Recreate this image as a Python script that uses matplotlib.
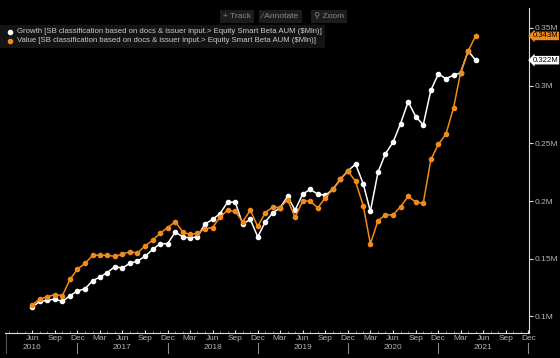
import matplotlib
matplotlib.use('Agg')

import matplotlib.pyplot as plt
import matplotlib.dates as mdates
import pandas as pd

plt.rcParams['font.family'] = ['Liberation Sans', 'DejaVu Sans']

# monthly AUM (millions) Jun 2016 .. May 2021
dates = pd.date_range('2016-06-01', periods=60, freq='MS')

growth = [0.108, 0.113, 0.114, 0.115, 0.113, 0.118, 0.122, 0.124, 0.131, 0.134,
          0.138, 0.143, 0.142, 0.146, 0.148, 0.152, 0.158, 0.163, 0.163, 0.173,
          0.169, 0.168, 0.169, 0.180, 0.184, 0.189, 0.199, 0.199, 0.180, 0.184,
          0.169, 0.182, 0.190, 0.194, 0.204, 0.192, 0.206, 0.210, 0.206, 0.205,
          0.210, 0.219, 0.226, 0.232, 0.215, 0.191, 0.225, 0.241, 0.251, 0.267,
          0.286, 0.273, 0.266, 0.296, 0.310, 0.306, 0.309, 0.311, 0.330, 0.322]

value = [0.110, 0.115, 0.117, 0.119, 0.118, 0.132, 0.141, 0.146, 0.153, 0.153,
         0.153, 0.152, 0.154, 0.156, 0.155, 0.161, 0.166, 0.172, 0.177, 0.182,
         0.173, 0.171, 0.172, 0.176, 0.177, 0.186, 0.192, 0.191, 0.182, 0.192,
         0.178, 0.190, 0.195, 0.194, 0.201, 0.186, 0.200, 0.200, 0.194, 0.203,
         0.210, 0.219, 0.226, 0.217, 0.196, 0.163, 0.183, 0.188, 0.188, 0.195,
         0.204, 0.199, 0.198, 0.236, 0.249, 0.258, 0.281, 0.311, 0.330, 0.343]

names = ['Growth [SB classification based on docs & issuer input.> Equity Smart Beta AUM ($Mln)]',
         'Value [SB classification based on docs & issuer input.> Equity Smart Beta AUM ($Mln)]']

yticks = [0.10, 0.15, 0.20, 0.25, 0.30, 0.35]
years = [2016, 2017, 2018, 2019, 2020, 2021]

WHITE = '#ffffff'
ORANGE = '#f28a1a'
GREY = '#b4b4b4'

fig = plt.figure(figsize=(5.6, 3.58), dpi=100, facecolor='black')
ax = fig.add_axes([0.009, 0.07, 0.936, 0.907])
ax.set_facecolor('black')

ax.plot(dates, growth, color=WHITE, lw=1.1, marker='o', ms=3, zorder=3)
ax.plot(dates, value, color=ORANGE, lw=1.1, marker='o', ms=3, zorder=3)

ax.set_xlim(pd.Timestamp('2016-02-12'), pd.Timestamp('2021-12-04'))
ax.set_ylim(0.0857, 0.367)

for s in ['top', 'left']:
    ax.spines[s].set_visible(False)
for s in ['right', 'bottom']:
    ax.spines[s].set_color('#dddddd')
    ax.spines[s].set_linewidth(0.8)

# y axis on the right
ax.yaxis.tick_right()
ax.set_yticks(yticks)
ax.set_yticklabels(['%gM' % t for t in yticks])
ax.tick_params(axis='y', colors='#dddddd', labelcolor=GREY, labelsize=6,
               length=3, width=0.8, pad=1)

# x axis: quarterly month labels from Jun 2016, monthly minor ticks
qticks = pd.date_range('2016-06-01', '2021-12-01', freq='3MS')
ax.set_xticks(qticks)
ax.set_xticklabels([d.strftime('%b') for d in qticks])
ax.xaxis.set_minor_locator(mdates.MonthLocator())
ax.tick_params(axis='x', which='major', colors='#dddddd', labelcolor=GREY,
               labelsize=6, length=2, width=0.8, pad=1.5, direction='in')
ax.tick_params(axis='x', which='minor', colors='#888888', length=1.5,
               width=0.6, direction='in')

# year labels and separators
xt = ax.get_xaxis_transform()
for y in years:
    ax.text(pd.Timestamp('%d-06-01' % y), -0.044, str(y), transform=xt,
            ha='center', va='center', color=GREY, fontsize=6, clip_on=False)
    ax.plot([pd.Timestamp('%d-12-01' % y)] * 2, [-0.03, -0.062], transform=xt,
            color='#888888', lw=0.8, clip_on=False)
ax.plot([pd.Timestamp('2016-02-14')] * 2, [0.0, -0.062], transform=xt,
        color='#555555', lw=0.8, clip_on=False)

# last value labels, above the tick labels
for v, c in [(value[-1], ORANGE), (growth[-1], WHITE)]:
    ax.annotate('%.3fM' % v, xy=(1.0, v), xycoords=('axes fraction', 'data'),
                xytext=(2.5, 0), textcoords='offset points', ha='left', va='center',
                fontsize=5.6, color='black', annotation_clip=False, zorder=10,
                bbox=dict(boxstyle='larrow,pad=0.1', fc=c, ec='none'))

# legend
fig.patches.append(plt.Rectangle((0.0, 0.865), 0.58, 0.065, transform=fig.transFigure,
                                 fc='#141414', ec='none', zorder=0))
for i, (nm, c) in enumerate(zip(names, [WHITE, ORANGE])):
    yy = 0.912 - i * 0.026
    fig.lines.append(plt.Line2D([0.018], [yy], marker='o', ms=3, color=c,
                                transform=fig.transFigure))
    fig.text(0.03, yy, nm, color='#cccccc', fontsize=5.6, va='center', ha='left')

# toolbar
for label, x0 in [('+ Track', 0.398), ('\u2215 Annotate', 0.468), ('\u26b2 Zoom', 0.561)]:
    fig.text(x0, 0.955, label, color='#8a8a8a', fontsize=6, va='center', ha='left',
             bbox=dict(boxstyle='square,pad=0.35', fc='#1c1c1c', ec='none'))

fig.savefig('out.png', dpi=100, facecolor='black')
